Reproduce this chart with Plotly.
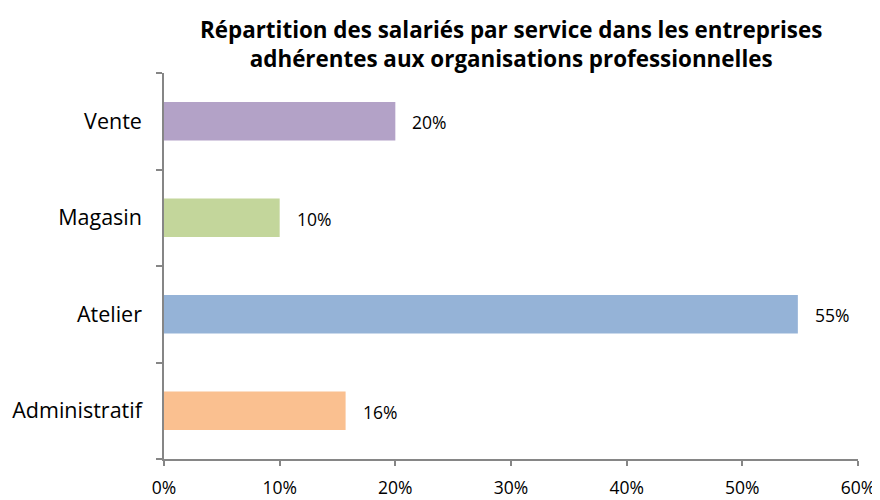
import plotly.graph_objects as go

categories = ["Administratif", "Atelier", "Magasin", "Vente"]
values = [0.157, 0.548, 0.10, 0.20]
colors = ["#FAC090", "#95B3D7", "#C3D69B", "#B3A2C7"]
x_ticks = [0, 0.1, 0.2, 0.3, 0.4, 0.5, 0.6]
x_tick_labels = ["0%", "10%", "20%", "30%", "40%", "50%", "60%"]
title_lines = ["Répartition des salariés par service dans les entreprises",
               "adhérentes aux organisations professionnelles"]

FONT = "Open Sans"
# page body has a default 8px margin; margins below compensate for it
OFF = 8

fig = go.Figure(go.Bar(
    y=categories, x=values, orientation="h",
    marker=dict(color=colors, line=dict(width=0)),
    width=0.4,
))

for c, v in zip(categories, values):
    fig.add_annotation(
        x=v, y=c, xref="x", yref="y", text=f"{v:.0%}", showarrow=False,
        xanchor="left", yanchor="middle", xshift=15, yshift=-1,
        font=dict(family=FONT, size=17.5, color="black"),
    )

fig.add_annotation(
    x=0.5, y=1, xref="paper", yref="paper", xanchor="center", yanchor="bottom",
    yshift=-3, showarrow=False,
    text="<b>" + "<br>".join(title_lines) + "</b>",
    font=dict(family=FONT, size=22.4, color="black"),
)

fig.update_layout(
    width=880, height=500,
    margin=dict(l=164 - OFF, r=22 + OFF, t=73 - OFF, b=41 + OFF),
    paper_bgcolor="white", plot_bgcolor="white",
    showlegend=False,
    font=dict(family=FONT, color="black"),
)

fig.update_xaxes(
    range=[0, 0.6], tickvals=x_ticks, ticktext=x_tick_labels,
    showgrid=False, zeroline=False, automargin=False,
    showline=True, linecolor="#868686", linewidth=1.5,
    ticks="outside", ticklen=5, tickcolor="#868686", tickwidth=1.5,
    ticklabelstandoff=7,
    tickfont=dict(family=FONT, size=17.5, color="black"),
)
fig.update_yaxes(
    type="category", categoryorder="array", categoryarray=categories,
    showgrid=False, zeroline=False, automargin=False,
    showline=True, linecolor="#868686", linewidth=1.5,
    ticks="outside", ticklen=6, tickcolor="#868686", tickwidth=1.5,
    tickson="boundaries", ticklabelstandoff=16,
    tickfont=dict(family=FONT, size=21.5, color="black"),
)

fig.write_html("out.html")
